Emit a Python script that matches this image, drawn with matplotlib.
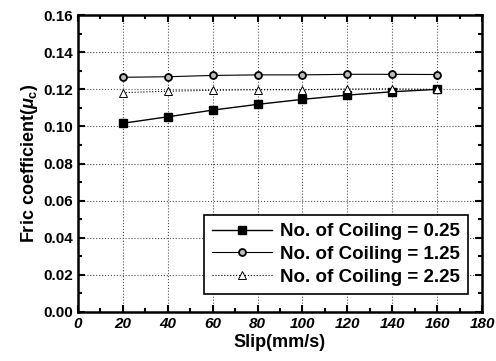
import matplotlib
matplotlib.use('Agg')
import matplotlib.pyplot as plt
from matplotlib.ticker import MultipleLocator

plt.rcParams['font.family'] = ['Liberation Sans', 'DejaVu Sans']
plt.rcParams['font.weight'] = 'bold'
plt.rcParams['mathtext.fontset'] = 'custom'
plt.rcParams['mathtext.rm'] = 'Liberation Sans:bold'
plt.rcParams['mathtext.it'] = 'Liberation Sans:bold:italic'

slip = [20, 40, 60, 80, 100, 120, 140, 160]
mu_025 = [0.1017, 0.1052, 0.1088, 0.1119, 0.1146, 0.1169, 0.1187, 0.1200]
mu_125 = [0.1265, 0.1268, 0.1275, 0.1278, 0.1278, 0.1281, 0.1281, 0.1280]
mu_225 = [0.1182, 0.1190, 0.1195, 0.1198, 0.1198, 0.1202, 0.1203, 0.1200]
labels = ['No. of Coiling = 0.25', 'No. of Coiling = 1.25', 'No. of Coiling = 2.25']

fig = plt.figure(figsize=(4.96, 3.61), dpi=100)
ax = fig.add_axes([0.157, 0.136, 0.815, 0.822])

ax.plot(slip, mu_025, '-', color='black', lw=1.0, marker='s', ms=5.5,
        mfc='black', mec='black', label=labels[0])
ax.plot(slip, mu_125, '-', color='black', lw=0.8, marker='o', ms=5,
        mfc='#bbbbbb', mec='black', mew=1.3, label=labels[1])
ax.plot(slip, mu_225, ':', color='black', lw=0.8, marker='^', ms=6,
        mfc='white', mec='black', mew=0.7, label=labels[2])

ax.set_xlim(0, 180)
ax.set_ylim(0, 0.16)
ax.xaxis.set_major_locator(MultipleLocator(20))
ax.xaxis.set_minor_locator(MultipleLocator(10))
ax.yaxis.set_major_locator(MultipleLocator(0.02))
ax.yaxis.set_minor_locator(MultipleLocator(0.01))
ax.yaxis.set_major_formatter(matplotlib.ticker.FormatStrFormatter('%.2f'))
ax.tick_params(which='both', direction='in', top=True, right=True, width=1.5)
ax.tick_params(which='major', length=5, labelsize=11)
ax.tick_params(which='minor', length=3)
for lab in ax.get_xticklabels():
    lab.set_fontstyle('italic')
for sp in ax.spines.values():
    sp.set_linewidth(1.8)

ax.grid(True, which='major', ls=':', color='#555555', lw=0.8)

ax.set_xlabel('Slip(mm/s)', fontsize=13, fontweight='bold', labelpad=2)
ax.set_ylabel(r'Fric coefficient($\mu_\mathrm{c}$)', fontsize=13, fontweight='bold', labelpad=2)

leg = ax.legend(loc='lower right', bbox_to_anchor=(0.965, 0.06), fontsize=13.5,
                frameon=True, fancybox=False, edgecolor='black', framealpha=1,
                handlelength=3.2, handletextpad=0.4, borderpad=0.45,
                labelspacing=0.3, borderaxespad=0)
leg.get_frame().set_linewidth(1.2)

fig.savefig('out.png', dpi=100)
